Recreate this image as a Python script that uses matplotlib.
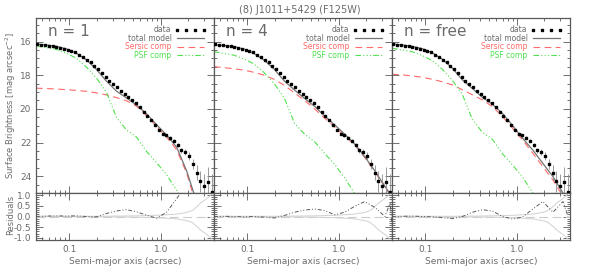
import numpy as np
import matplotlib
matplotlib.use("Agg")
import matplotlib.pyplot as plt
from matplotlib.lines import Line2D
from matplotlib.ticker import MultipleLocator, LogLocator, FuncFormatter, NullFormatter

nan = np.nan

# surface brightness profile (isophote fit), arcsec / mag arcsec^-2
radius = [0.045, 0.0495, 0.0545, 0.0599, 0.0659, 0.0725, 0.0797, 0.0877, 0.0965, 0.106,
          0.117, 0.128, 0.141, 0.155, 0.171, 0.188, 0.207, 0.228, 0.250, 0.275,
          0.303, 0.333, 0.367, 0.403, 0.444, 0.488, 0.537, 0.590, 0.650, 0.714,
          0.786, 0.864, 0.951, 1.046, 1.150, 1.265, 1.392, 1.531, 1.684, 1.853,
          2.038, 2.242, 2.466, 2.713, 2.984, 3.282, 3.611]
sb = [16.16, 16.19, 16.23, 16.25, 16.28, 16.30, 16.36, 16.42, 16.49, 16.57,
      16.65, 16.78, 16.91, 17.07, 17.23, 17.45, 17.66, 17.88, 18.10, 18.32,
      18.52, 18.71, 18.91, 19.10, 19.28, 19.46, 19.63, 19.91, 20.19, 20.43,
      20.69, 20.93, 21.27, 21.47, 21.57, 21.72, 21.88, 22.14, 22.47, 22.58,
      22.79, 23.30, 23.80, 24.30, 24.60, 24.35, 24.95]
sb_err = [0.01, 0.01, 0.01, 0.01, 0.01, 0.01, 0.01, 0.01, 0.01, 0.01,
          0.01, 0.01, 0.01, 0.01, 0.01, 0.01, 0.01, 0.015, 0.015, 0.015,
          0.02, 0.02, 0.02, 0.025, 0.025, 0.03, 0.03, 0.035, 0.04, 0.045,
          0.05, 0.055, 0.06, 0.07, 0.08, 0.09, 0.10, 0.12, 0.15, 0.18,
          0.22, 0.30, 0.45, 0.62, 0.75, 0.88, 1.05]

# model curves on a common radius grid
model_r = [0.0434, 0.0559, 0.0720, 0.0927, 0.119, 0.154, 0.198, 0.255, 0.329, 0.423,
           0.545, 0.702, 0.904, 1.16, 1.50, 1.93, 2.49, 3.20, 4.12]

total_n1 = [16.15, 16.20, 16.28, 16.43, 16.68, 17.08, 17.65, 18.35, 18.95, 19.35,
            19.78, 20.30, 20.95, 21.55, 22.30, 23.72, 25.60, nan, nan]
sersic_n1 = [18.77, 18.79, 18.82, 18.86, 18.90, 18.96, 19.05, 19.17, 19.33, 19.52,
             19.85, 20.40, 21.05, 21.68, 22.45, 23.85, 25.90, nan, nan]
psf_n1 = [16.25, 16.36, 16.46, 16.69, 16.98, 17.51, 18.16, 19.01, 20.51, 21.26,
          21.68, 22.54, 23.21, 23.91, 24.86, 25.81, nan, nan, nan]

total_n4 = [16.20, 16.23, 16.30, 16.45, 16.72, 17.12, 17.65, 18.35, 18.88, 19.38,
            19.85, 20.42, 20.95, 21.50, 22.10, 22.85, 23.70, 24.60, 25.50]
sersic_n4 = [17.49, 17.55, 17.62, 17.70, 17.83, 18.00, 18.25, 18.60, 19.05, 19.50,
             20.00, 20.55, 21.08, 21.60, 22.15, 22.90, 23.75, 24.65, 25.55]
psf_n4 = [16.60, 16.71, 16.81, 17.04, 17.33, 17.86, 18.51, 19.36, 20.86, 21.50,
          21.95, 22.65, 23.30, 24.10, 25.05, 26.00, nan, nan, nan]

total_free = [16.15, 16.20, 16.28, 16.42, 16.66, 17.05, 17.58, 18.28, 18.80, 19.32,
              19.74, 20.28, 21.00, 21.75, 22.45, 23.24, 24.03, 25.00, 26.00]
sersic_free = [17.94, 17.98, 18.04, 18.12, 18.24, 18.39, 18.58, 18.86, 19.17, 19.47,
               19.87, 20.46, 21.16, 21.85, 22.64, 23.44, 24.23, 25.20, 26.20]
psf_free = [16.39, 16.50, 16.60, 16.83, 17.12, 17.65, 18.30, 19.15, 20.65, 21.40,
            21.82, 22.68, 23.35, 24.05, 25.00, 25.95, nan, nan, nan]

# residuals
res_r = [0.0434, 0.0559, 0.0720, 0.0927, 0.119, 0.154, 0.198, 0.255, 0.329, 0.423,
         0.545, 0.702, 0.904, 1.16, 1.50, 1.93, 2.49, 3.20, 3.64, 3.82]
res_n1 = [0.00, 0.02, 0.03, 0.02, 0.03, 0.00, -0.02, 0.14, 0.26, 0.32,
          0.22, 0.06, -0.08, 0.20, 0.85, 1.50, nan, nan, nan, nan]
res_n4 = [0.00, 0.01, 0.00, -0.02, 0.00, -0.03, -0.07, 0.05, 0.20, 0.30,
          0.35, 0.28, 0.08, 0.20, 0.48, 0.70, 0.42, 0.00, 0.63, -0.40]
res_free = [0.00, 0.01, 0.02, 0.00, -0.02, -0.05, -0.10, 0.00, 0.20, 0.32,
            0.25, 0.00, -0.12, -0.02, 0.35, 0.70, 0.20, 0.70, 0.00, nan]

panel_labels = ["n = 1", "n = 4", "n = free"]
totals = [total_n1, total_n4, total_free]
sersics = [sersic_n1, sersic_n4, sersic_free]
psfs = [psf_n1, psf_n4, psf_free]
residuals = [res_n1, res_n4, res_free]

AX = "0.35"
TXT = "0.42"
RED = "#ff6a6a"
GREEN = "#4ee04e"

fig = plt.figure(figsize=(5.94, 2.77), dpi=100)
W, H = 594.0, 277.0
x0, x1 = 36 / W, 570 / W
pw = (x1 - x0) / 3
top_box = (1 - 193 / H, 175 / H)
bot_box = (1 - 240 / H, 47 / H)


def style_axis(ax):
    ax.set_xscale("log")
    ax.set_xlim(0.0434, 3.82)
    for s in ax.spines.values():
        s.set_color(AX)
        s.set_linewidth(0.9)
    ax.tick_params(which="both", direction="in", top=True, right=True,
                   colors=AX, labelcolor=TXT, labelsize=6.5, width=0.6)
    ax.tick_params(which="major", length=5)
    ax.tick_params(which="minor", length=2.5)
    ax.xaxis.set_major_locator(LogLocator(base=10))
    ax.xaxis.set_minor_locator(LogLocator(base=10, subs=np.arange(2, 10)))
    ax.xaxis.set_minor_formatter(NullFormatter())


for i in range(3):
    ax = fig.add_axes([x0 + i * pw, top_box[0], pw, top_box[1]])
    axr = fig.add_axes([x0 + i * pw, bot_box[0], pw, bot_box[1]])
    style_axis(ax)
    style_axis(axr)

    # profile + models
    ax.errorbar(radius, sb, yerr=sb_err, fmt="s", ms=2.0, color="black",
                ecolor="0.55", elinewidth=0.6, capsize=0, zorder=5)
    ax.plot(model_r, totals[i], color="0.45", lw=0.9, zorder=3)
    ax.plot(model_r, sersics[i], color=RED, lw=0.8, ls=(0, (6, 4)), zorder=2)
    ax.plot(model_r, psfs[i], color=GREEN, lw=0.8,
            ls=(0, (5, 2, 1, 2, 1, 2, 1, 2)), zorder=2)

    ax.set_ylim(25.0, 14.6)
    ax.yaxis.set_major_locator(MultipleLocator(2))
    ax.yaxis.set_minor_locator(MultipleLocator(0.5))
    ax.tick_params(labelbottom=False, labelleft=(i == 0))

    ax.text(0.067, 0.9, panel_labels[i], transform=ax.transAxes,
            fontsize=11, color=TXT, va="baseline")

    handles = [
        Line2D([], [], ls="none", marker="s", ms=2.0, color="black"),
        Line2D([], [], color="0.45", lw=0.9),
        Line2D([], [], color=RED, lw=0.8, ls=(0, (6, 4))),
        Line2D([], [], color=GREEN, lw=0.8, ls=(0, (5, 2, 1, 2, 1, 2, 1, 2))),
    ]
    ax.legend(handles, ["data", "total model", "Sersic comp", "PSF comp"],
              loc="upper right", frameon=False, markerfirst=False, numpoints=4,
              fontsize=5.5, handlelength=4.2, handletextpad=0.4,
              labelspacing=-0.05, borderpad=0.45, borderaxespad=0.5,
              labelcolor=[TXT, TXT, RED, GREEN])

    # residual panel
    axr.axhline(0, color="0.8", lw=0.8, ls=(0, (8, 4)))
    axr.plot(radius, sb_err, color="0.82", lw=0.7)
    axr.plot(radius, [-e for e in sb_err], color="0.82", lw=0.7)
    axr.plot(res_r, residuals[i], color="0.35", lw=0.7,
             ls=(0, (4, 2, 1, 2, 1, 2)))
    axr.set_ylim(-1.1, 1.1)
    axr.yaxis.set_major_locator(MultipleLocator(0.5))
    axr.yaxis.set_minor_locator(MultipleLocator(0.1))
    axr.yaxis.set_major_formatter(FuncFormatter(lambda v, p: "%.1f" % v))
    axr.xaxis.set_major_formatter(FuncFormatter(lambda v, p: "%.1f" % v))
    axr.tick_params(labelleft=(i == 0))
    axr.set_xlabel("Semi-major axis (acrsec)", fontsize=6.5, color=TXT, labelpad=2)

fig.text(0.018, 1 - 105.5 / H, "Surface Brightness [mag arcsec$^{-2}$]",
         rotation=90, ha="center", va="center", fontsize=6, color=TXT)
fig.text(0.018, 1 - 215 / H, "Residuals", rotation=90, ha="center",
         va="center", fontsize=6, color=TXT)
fig.text(300 / W, 1 - 10 / H, "(8) J1011+5429 (F125W)", ha="center",
         va="center", fontsize=7, color=TXT)

fig.savefig("out.png", dpi=100)
